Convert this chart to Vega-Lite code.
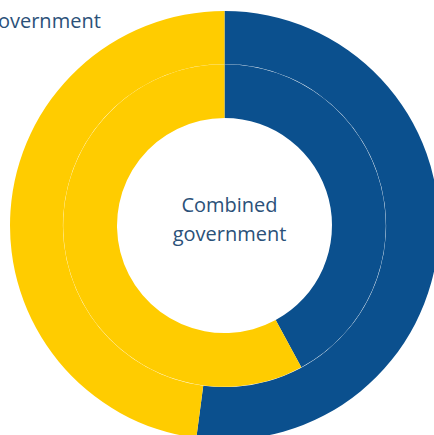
{
  "$schema": "https://vega.github.io/schema/vega-lite/v6.json",
  "width": 449,
  "height": 451,
  "padding": 0,
  "autosize": "none",
  "background": "white",
  "config": {"view": {"stroke": null}},
  "datasets": {
    "rings": [
      {"ring": "outer", "sector": "Central government", "value": 52.1},
      {"ring": "outer", "sector": "Local government", "value": 47.9},
      {"ring": "inner", "sector": "Central government", "value": 42.1},
      {"ring": "inner", "sector": "Local government", "value": 57.9}
    ],
    "center": [{"label": "Combined government"}],
    "corner": [{"label": "Local government"}]
  },
  "layer": [
    {
      "data": {"name": "rings"},
      "transform": [{"filter": "datum.ring === 'outer'"}],
      "mark": {"type": "arc", "outerRadius": 214.5, "innerRadius": 161.6},
      "encoding": {
        "theta": {"field": "value", "type": "quantitative", "stack": true},
        "color": {
          "field": "sector",
          "type": "nominal",
          "scale": {"domain": ["Central government", "Local government"], "range": ["#0B508E", "#FFCC00"]},
          "legend": null
        }
      }
    },
    {
      "data": {"name": "rings"},
      "transform": [{"filter": "datum.ring === 'inner'"}],
      "mark": {"type": "arc", "outerRadius": 161.3, "innerRadius": 107.5},
      "encoding": {
        "theta": {"field": "value", "type": "quantitative", "stack": true},
        "color": {"field": "sector", "type": "nominal", "legend": null}
      }
    },
    {
      "data": {"name": "center"},
      "mark": {"type": "text", "font": "Open Sans", "fontSize": 20, "color": "#2B5179", "lineBreak": " ", "lineHeight": 29, "baseline": "middle", "dx": 5, "dy": -20},
      "encoding": {"text": {"field": "label"}}
    },
    {
      "data": {"name": "corner"},
      "mark": {"type": "text", "font": "Open Sans", "fontSize": 20, "color": "#2B5179", "align": "right", "baseline": "middle", "radius": 238},
      "encoding": {
        "theta": {"datum": 91.3, "type": "quantitative"},
        "text": {"field": "label"}
      }
    }
  ]
}
